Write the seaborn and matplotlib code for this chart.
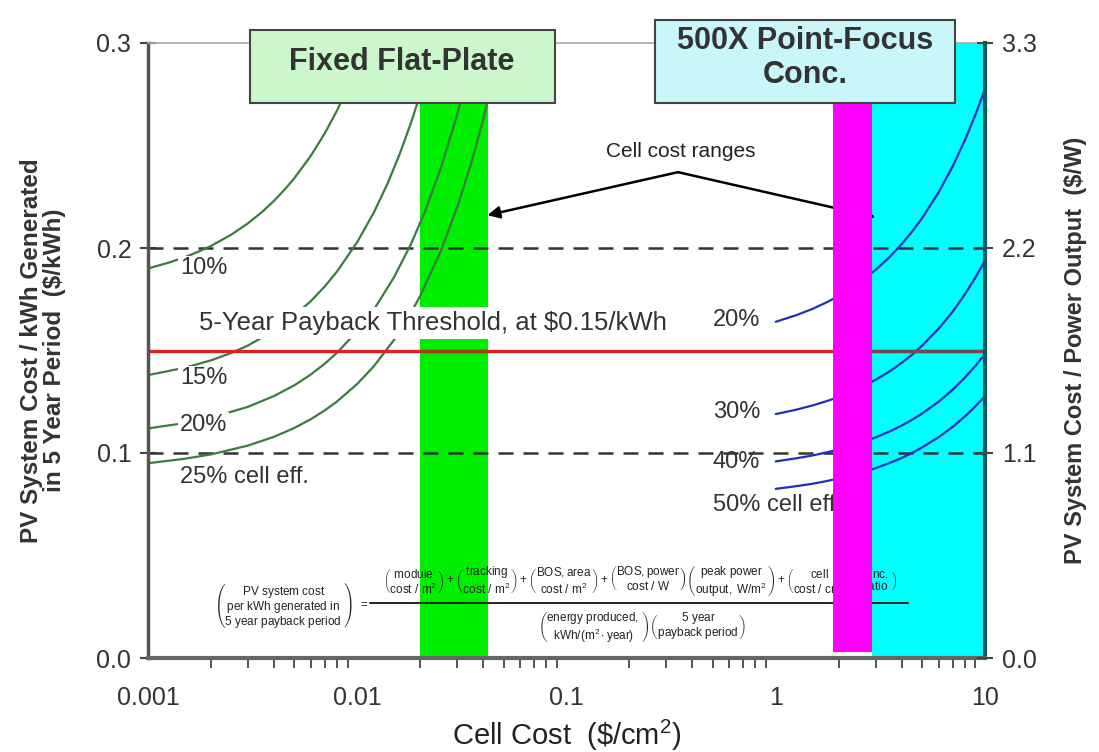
import matplotlib
matplotlib.use('Agg')
import matplotlib.pyplot as plt
import matplotlib.ticker as mticker
from matplotlib.patches import Rectangle
from matplotlib.lines import Line2D
import seaborn as sns
import pandas as pd

sns.set_style('white')
plt.rcParams['font.family'] = ['Liberation Sans', 'DejaVu Sans']
plt.rcParams['mathtext.fontset'] = 'custom'
plt.rcParams['mathtext.rm'] = 'Liberation Sans'
plt.rcParams['mathtext.it'] = 'Liberation Sans:italic'
plt.rcParams['mathtext.bf'] = 'Liberation Sans:bold'

# --- data ----------------------------------------------------------------
# fixed flat-plate curves: cell cost ($/cm2) vs system cost per kWh ($/kWh)
flat10_x = [0.001, 0.00125, 0.0015, 0.00175, 0.002, 0.0025, 0.003, 0.0035, 0.004, 0.0045,
            0.005, 0.006, 0.007, 0.008, 0.009, 0.01, 0.011]
flat10_y = [0.190, 0.1928, 0.1955, 0.1983, 0.201, 0.2065, 0.212, 0.2175, 0.223, 0.2285,
            0.234, 0.245, 0.256, 0.267, 0.278, 0.289, 0.300]
flat15_x = [0.001, 0.0015, 0.002, 0.0025, 0.003, 0.004, 0.005, 0.006, 0.007, 0.008,
            0.01, 0.012, 0.014, 0.016, 0.018, 0.02, 0.022, 0.0235]
flat15_y = [0.138, 0.1416, 0.1452, 0.1488, 0.1524, 0.1596, 0.1669, 0.1741, 0.1813, 0.1885,
            0.2029, 0.2173, 0.2317, 0.2462, 0.2606, 0.275, 0.2894, 0.300]
flat20_x = [0.001, 0.0015, 0.002, 0.003, 0.004, 0.005, 0.006, 0.007, 0.008, 0.01,
            0.012, 0.015, 0.018, 0.021, 0.025, 0.03, 0.0335, 0.0367]
flat20_y = [0.112, 0.1146, 0.1172, 0.1225, 0.1278, 0.133, 0.1383, 0.1436, 0.1489, 0.1594,
            0.1699, 0.1858, 0.2016, 0.2174, 0.2385, 0.2648, 0.2832, 0.300]
flat25_x = [0.001, 0.0015, 0.002, 0.003, 0.004, 0.005, 0.006, 0.007, 0.008, 0.01,
            0.012, 0.015, 0.018, 0.02, 0.025, 0.03, 0.035, 0.04, 0.045, 0.0487]
flat25_y = [0.095, 0.0972, 0.0993, 0.1036, 0.1079, 0.1122, 0.1165, 0.1208, 0.1251, 0.1337,
            0.1423, 0.1552, 0.1681, 0.1767, 0.1982, 0.2197, 0.2412, 0.2627, 0.2842, 0.300]

# 500X point-focus concentrator curves
conc_x = [1, 1.25, 1.5, 1.75, 2, 2.5, 3, 3.5, 4, 4.5, 5, 6, 7, 8, 9, 10]
conc20_y = [0.1640, 0.1672, 0.1703, 0.1735, 0.1766, 0.1830, 0.1893, 0.1956,
            0.2019, 0.2082, 0.2145, 0.2271, 0.2397, 0.2524, 0.2650, 0.2776]
conc30_y = [0.1190, 0.1211, 0.1232, 0.1253, 0.1273, 0.1315, 0.1357, 0.1398,
            0.1440, 0.1481, 0.1523, 0.1606, 0.1689, 0.1773, 0.1856, 0.1939]
conc40_y = [0.0959, 0.0974, 0.0988, 0.1003, 0.1017, 0.1047, 0.1076, 0.1105,
            0.1134, 0.1163, 0.1192, 0.1250, 0.1308, 0.1367, 0.1425, 0.1483]
conc50_y = [0.0825, 0.0838, 0.0850, 0.0863, 0.0876, 0.0901, 0.0926, 0.0951,
            0.0976, 0.1001, 0.1027, 0.1077, 0.1127, 0.1177, 0.1228, 0.1278]

threshold = 0.15
dashed_levels = [0.1, 0.2]
flat_range = [0.02, 0.042]      # flat-plate cell cost range
conc_range = [1.88, 2.88]       # concentrator cell cost range
conc_zone = [2.88, 10]

x_ticks = [0.001, 0.01, 0.1, 1, 10]
y_ticks = [0.0, 0.1, 0.2, 0.3]
y2_ticks = [0.0, 1.1, 2.2, 3.3]

# --- build tables --------------------------------------------------------
flat = pd.concat([
    pd.DataFrame({'cost': flat10_x, 'val': flat10_y, 'eff': '10%'}),
    pd.DataFrame({'cost': flat15_x, 'val': flat15_y, 'eff': '15%'}),
    pd.DataFrame({'cost': flat20_x, 'val': flat20_y, 'eff': '20%'}),
    pd.DataFrame({'cost': flat25_x, 'val': flat25_y, 'eff': '25%'}),
])
conc = pd.concat([
    pd.DataFrame({'cost': conc_x, 'val': conc20_y, 'eff': '20%'}),
    pd.DataFrame({'cost': conc_x, 'val': conc30_y, 'eff': '30%'}),
    pd.DataFrame({'cost': conc_x, 'val': conc40_y, 'eff': '40%'}),
    pd.DataFrame({'cost': conc_x, 'val': conc50_y, 'eff': '50%'}),
])

W, H = 1099, 752
fig = plt.figure(figsize=(W / 100, H / 100), dpi=100)
ax = fig.add_axes([148 / W, 1 - 658 / H, 837 / W, 615 / H])
ax.set_xscale('log')

green_c = '#3c7a40'
blue_c = '#1f2fc0'

# shaded cell-cost ranges
ax.axvspan(flat_range[0], flat_range[1], ymax=0.907, color='#00ee00', lw=0, zorder=1)
ax.axvspan(conc_zone[0], conc_zone[1], color='#00ffff', lw=0, zorder=1)
ax.axvspan(conc_range[0], conc_range[1], ymin=0.01, ymax=0.923, color='#ff00ff', lw=0, zorder=7)

for lv in dashed_levels:
    ax.axhline(lv, color='#333333', ls=(0, (6, 4)), lw=1.8, zorder=2)

sns.lineplot(data=flat, x='cost', y='val', hue='eff', units='eff', estimator=None, sort=False,
             palette={e: green_c for e in flat['eff'].unique()}, legend=False,
             lw=1.6, ax=ax, zorder=3)
sns.lineplot(data=conc, x='cost', y='val', hue='eff', units='eff', estimator=None, sort=False,
             palette={e: blue_c for e in conc['eff'].unique()}, legend=False,
             lw=1.6, ax=ax, zorder=3)

ax.axhline(threshold, color='#e02020', lw=2.4, zorder=3.5)
ax.hlines(threshold, flat_range[0], flat_range[1], color='#a83a18', lw=2.4, zorder=3.6)
ax.hlines(threshold, conc_zone[0], conc_zone[1], color='#7a4848', lw=2.4, zorder=3.6)

# labels
lab_kw = dict(fontsize=17, color='#333333', va='center', ha='left', zorder=4,
              bbox=dict(facecolor='white', edgecolor='none', pad=1))
ax.text(0.00142, 0.19, '10%', **lab_kw)
ax.text(0.00142, 0.1366, '15%', **lab_kw)
ax.text(0.00142, 0.1137, '20%', **lab_kw)
ax.text(0.00142, 0.0883, '25% cell eff.', **lab_kw)

rlab_kw = dict(fontsize=17, color='#333333', va='center', ha='left', zorder=4)
ax.text(0.50, 0.165, '20%', **rlab_kw)
ax.text(0.50, 0.120, '30%', **rlab_kw)
ax.text(0.50, 0.0956, '40%', **rlab_kw)
ax.text(0.50, 0.0746, '50% cell eff.', **rlab_kw)

ax.text(0.00175, 0.1635, '5-Year Payback Threshold, at $0.15/kWh', fontsize=18.5,
        color='#333333', va='center', ha='left', zorder=4.5,
        bbox=dict(facecolor='white', edgecolor='none', pad=3))

ax.text(0.35, 0.247, 'Cell cost ranges', fontsize=15, color='#222222',
        ha='center', va='center', zorder=5)
ax.annotate('', xy=(0.0419, 0.216), xytext=(0.341, 0.237), zorder=5,
            arrowprops=dict(arrowstyle='-|>', color='black', lw=1.8, mutation_scale=18,
                            shrinkA=0, shrinkB=0))
ax.annotate('', xy=(3.0, 0.215), xytext=(0.341, 0.237), zorder=5,
            arrowprops=dict(arrowstyle='-|>', color='black', lw=1.8, mutation_scale=12,
                            shrinkA=0, shrinkB=0))

# formula (tiny, as in the source slide)
def fx(px):
    return px / W


def fy(py):
    return 1 - py / H


fkw = dict(transform=fig.transFigure, fontsize=8.5, color='#222222', zorder=5,
           ha='center', va='center')
ax.text(fx(283), fy(605),
        r'$\left(\genfrac{}{}{0}{0}{\mathrm{PV\ system\ cost}}'
        r'{\genfrac{}{}{0}{0}{\mathrm{per\ kWh\ generated\ in}}{\mathrm{5\ year\ payback\ period}}}\right)$',
        **fkw)
ax.text(fx(364), fy(605), '=', **fkw)
ax.text(fx(640), fy(581),
        r'$\genfrac{(}{)}{0}{0}{\mathrm{module}}{\mathrm{cost\ /\ m^2}}+'
        r'\genfrac{(}{)}{0}{0}{\mathrm{tracking}}{\mathrm{cost\ /\ m^2}}+'
        r'\genfrac{(}{)}{0}{0}{\mathrm{BOS,area}}{\mathrm{cost\ /\ m^2}}+'
        r'\genfrac{(}{)}{0}{0}{\mathrm{BOS,power}}{\mathrm{cost\ /\ W}}'
        r'\genfrac{(}{)}{0}{0}{\mathrm{peak\ power}}{\mathrm{output,\ W/m^2}}+'
        r'\genfrac{(}{)}{0}{0}{\mathrm{cell}}{\mathrm{cost\ /\ cm^2}}'
        r'\genfrac{(}{)}{0}{0}{\mathrm{conc.}}{\mathrm{ratio}}$',
        **fkw)
ax.add_line(Line2D([fx(370), fx(908)], [fy(603), fy(603)], transform=fig.transFigure,
                   color='#222222', lw=1.4, zorder=5))
ax.text(fx(642), fy(627),
        r'$\genfrac{(}{)}{0}{0}{\mathrm{energy\ produced,}}{\mathrm{kWh/(m^2\cdot year)}}'
        r'\genfrac{(}{)}{0}{0}{\mathrm{5\ year}}{\mathrm{payback\ period}}$',
        **fkw)

# axes styling
ax.set_xlim(0.001, 10)
ax.set_ylim(0, 0.3)
ax.set_xticks(x_ticks)
ax.xaxis.set_major_formatter(mticker.FuncFormatter(lambda v, p: f'{v:g}'))
ax.xaxis.set_minor_formatter(mticker.NullFormatter())
ax.set_yticks(y_ticks)
ax.yaxis.set_major_formatter(mticker.FormatStrFormatter('%.1f'))
ax.tick_params(axis='x', which='major', direction='inout', length=12, width=1.5,
               color='#444444', labelsize=18, labelcolor='#333333', pad=14)
ax.tick_params(axis='x', which='minor', direction='out', length=7, width=1.3,
               color='#444444', bottom=True)
ax.tick_params(axis='y', which='major', direction='inout', length=12, width=1.5,
               color='#444444', labelsize=18, labelcolor='#333333', pad=6, left=True)
ax.set_xlabel(r'Cell Cost  (\$/cm$^{2}$)', fontsize=21, color='#222222', labelpad=6)
ax.set_ylabel('PV System Cost / kWh Generated\nin 5 Year Period  ($/kWh)', fontsize=17.5,
              fontweight='bold', color='#333333', labelpad=22, linespacing=1.0)

for side, col, lw in [('left', '#555555', 2.5), ('bottom', '#666666', 3),
                      ('top', '#aaaaaa', 1.2), ('right', '#0a5a5a', 3)]:
    ax.spines[side].set_color(col)
    ax.spines[side].set_linewidth(lw)
    ax.spines[side].set_zorder(8)

ax2 = ax.twinx()
ax2.set_ylim(0, 3.3)
ax2.set_yticks(y2_ticks)
ax2.yaxis.set_major_formatter(mticker.FormatStrFormatter('%.1f'))
ax2.tick_params(axis='y', direction='inout', length=12, width=1.5, color='#444444',
                labelsize=18, labelcolor='#333333', pad=6, right=True)
ax2.set_ylabel('PV System Cost / Power Output  ($/W)', fontsize=17, fontweight='bold',
               color='#333333', labelpad=20)
for s in ax2.spines.values():
    s.set_visible(False)

# title boxes
fig.add_artist(Rectangle((fx(250), fy(103)), 305 / W, 73 / H, transform=fig.transFigure,
                         facecolor='#ccf7cc', edgecolor='#444444', lw=1.5, zorder=10))
fig.text(fx(402), fy(62), 'Fixed Flat-Plate', fontsize=22, fontweight='bold',
         color='#333333', ha='center', va='center', zorder=11)
fig.add_artist(Rectangle((fx(655), fy(103)), 300 / W, 83 / H, transform=fig.transFigure,
                         facecolor='#c9f6f8', edgecolor='#444444', lw=1.5, zorder=10))
fig.text(fx(805), fy(58), '500X Point-Focus\nConc.', fontsize=22, fontweight='bold',
         color='#333333', ha='center', va='center', zorder=11, linespacing=1.15)

fig.savefig('out.png', dpi=100)
